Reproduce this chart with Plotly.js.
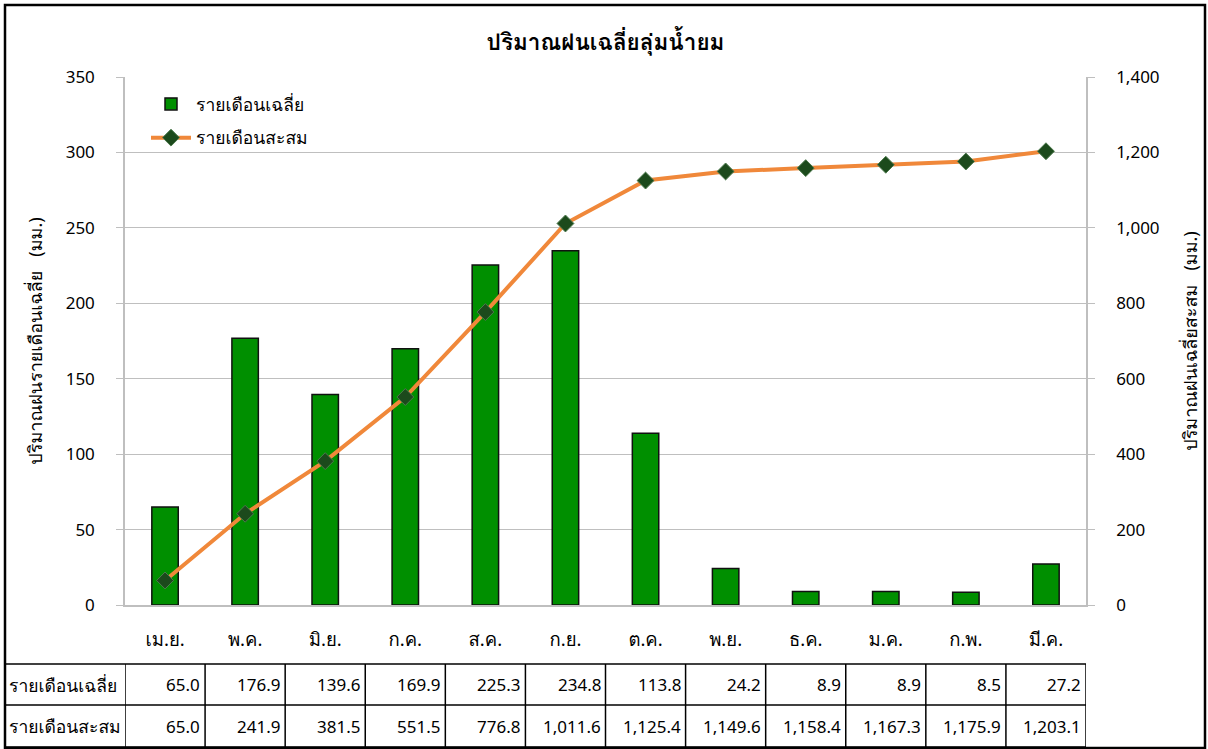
<!DOCTYPE html>
<html>
<head>
<meta charset="utf-8">
<script src="https://cdn.plot.ly/plotly-3.0.1.min.js"></script>
<style>html,body{margin:0;padding:0;background:#fff;}</style>
</head>
<body>
<div id="chart" style="width:1208px;height:749px;"></div>
<script>
const months = ['เม.ย.', 'พ.ค.', 'มิ.ย.', 'ก.ค.', 'ส.ค.', 'ก.ย.', 'ต.ค.', 'พ.ย.', 'ธ.ค.', 'ม.ค.', 'ก.พ.', 'มี.ค.'];
const monthlyAvg = [65.0, 176.9, 139.6, 169.9, 225.3, 234.8, 113.8, 24.2, 8.9, 8.9, 8.5, 27.2];
const cumulative = [65.0, 241.9, 381.5, 551.5, 776.8, 1011.6, 1125.4, 1149.6, 1158.4, 1167.3, 1175.9, 1203.1];
const seriesNames = ['รายเดือนเฉลี่ย', 'รายเดือนสะสม'];
const chartTitle = 'ปริมาณฝนเฉลี่ยลุ่มน้ำยม';
const leftTitle = 'ปริมาณฝนรายเดือนเฉลี่ย   (มม.)';
const rightTitle = 'ปริมาณฝนเฉลี่ยสะสม   (มม.)';
const leftTicks = [0, 50, 100, 150, 200, 250, 300, 350];
const rightTicks = [0, 200, 400, 600, 800, 1000, 1200, 1400];

const FONT = "'Noto Sans', Tahoma, Waree, Loma, 'Noto Sans Thai', 'DejaVu Sans', sans-serif";
const THAI = 17.5;
const NUM = 17;
const fmt = v => v.toLocaleString('en-US', {minimumFractionDigits: 1, maximumFractionDigits: 1});

const W = 1208, H = 749, L = 125, R = 1086, T = 77, B = 605;
const pw = R - L, ph = B - T;
const px = x => (x - L) / pw;
const py = y => (B - y) / ph;

const tableTop = 664, tableMid = 705, tableBot = 747;

const shapes = [];
const annotations = [];
const lineStyle = {color: '#000', width: 1.5};
[tableTop, tableMid, tableBot].forEach(y => {
  shapes.push({type: 'line', xref: 'paper', yref: 'paper', x0: px(5), x1: px(R), y0: py(y), y1: py(y), line: lineStyle});
});
for (let i = 0; i <= months.length; i++) {
  shapes.push({type: 'line', xref: 'x', yref: 'paper', x0: i - 0.5, x1: i - 0.5, y0: py(tableTop), y1: py(tableBot), line: lineStyle});
}
shapes.push({type: 'rect', xref: 'paper', yref: 'paper', x0: px(5), x1: px(1205), y0: py(748), y1: py(5), line: {color: '#000', width: 2.5}, fillcolor: 'rgba(0,0,0,0)', layer: 'above'});

[[seriesNames[0], (tableTop + tableMid) / 2], [seriesNames[1], (tableMid + tableBot) / 2]].forEach(([t, y]) => {
  annotations.push({xref: 'paper', yref: 'paper', x: px(7), y: py(y), text: t, showarrow: false, xanchor: 'left', yanchor: 'middle', font: {family: FONT, size: THAI, color: '#000'}});
});
months.forEach((m, i) => {
  annotations.push({xref: 'x', yref: 'paper', x: i + 0.5, y: py((tableTop + tableMid) / 2), text: fmt(monthlyAvg[i]), showarrow: false, xanchor: 'right', xshift: -3, yanchor: 'middle', font: {family: FONT, size: NUM, color: '#000'}});
  annotations.push({xref: 'x', yref: 'paper', x: i + 0.5, y: py((tableMid + tableBot) / 2), text: fmt(cumulative[i]), showarrow: false, xanchor: 'right', xshift: -3, yanchor: 'middle', font: {family: FONT, size: NUM, color: '#000'}});
});

const traces = [
  {
    type: 'bar', name: seriesNames[0], x: months, y: monthlyAvg, legendgroup: 'a',
    marker: {color: '#008f00', line: {color: '#111', width: 1.5}},
    hoverinfo: 'x+y'
  },
  {
    type: 'scatter', mode: 'lines+markers', name: seriesNames[1], x: months, y: cumulative, yaxis: 'y2', legendgroup: 'b',
    line: {color: '#F0883A', width: 4},
    marker: {symbol: 'diamond', size: 13, color: '#1c4a1c', line: {color: '#4d7a4d', width: 1}}
  }
];

const layout = {
  width: W, height: H,
  margin: {l: L, r: W - R, t: T, b: H - B, pad: 0},
  paper_bgcolor: '#fff', plot_bgcolor: '#fff',
  font: {family: FONT, size: NUM, color: '#000'},
  title: {text: '<b>' + chartTitle + '</b>', font: {family: FONT, size: 22.5, color: '#000'}, x: 0.5, xref: 'paper', xanchor: 'center', y: 1 - 42 / H, yref: 'container', yanchor: 'middle'},
  bargap: 0.67,
  showlegend: true,
  legend: {x: px(146), y: py(86), xanchor: 'left', yanchor: 'top', bgcolor: 'rgba(0,0,0,0)', font: {family: FONT, size: THAI}, tracegroupgap: 8, itemwidth: 40},
  xaxis: {
    type: 'category', showgrid: false, showline: true, linecolor: '#bfbfbf', linewidth: 1.5,
    ticks: '', ticklabelstandoff: 17, tickfont: {family: FONT, size: 18.5}, range: [-0.5, 11.5], fixedrange: true
  },
  yaxis: {
    range: [0, 350], tickvals: leftTicks, ticktext: leftTicks.map(String), showgrid: true, gridcolor: '#bfbfbf', gridwidth: 1,
    showline: true, linecolor: '#bfbfbf', linewidth: 1.5, ticks: 'outside', ticklen: 7, tickcolor: '#bfbfbf',
    ticklabelstandoff: 18, zeroline: false, tickfont: {family: FONT, size: NUM},
    title: {text: leftTitle, font: {family: FONT, size: 18}, standoff: 18}
  },
  yaxis2: {
    range: [0, 1400], tickvals: rightTicks, ticktext: rightTicks.map(v => v.toLocaleString('en-US')), overlaying: 'y', side: 'right',
    showgrid: false, showline: true, linecolor: '#bfbfbf', linewidth: 1.5, ticks: 'outside', ticklen: 7, tickcolor: '#bfbfbf',
    ticklabelstandoff: 18, zeroline: false, tickfont: {family: FONT, size: NUM},
    title: {text: rightTitle, font: {family: FONT, size: 18}, standoff: 26}
  },
  shapes: shapes,
  annotations: annotations
};

Plotly.newPlot('chart', traces, layout, {displayModeBar: false, responsive: false});
</script>
</body>
</html>
